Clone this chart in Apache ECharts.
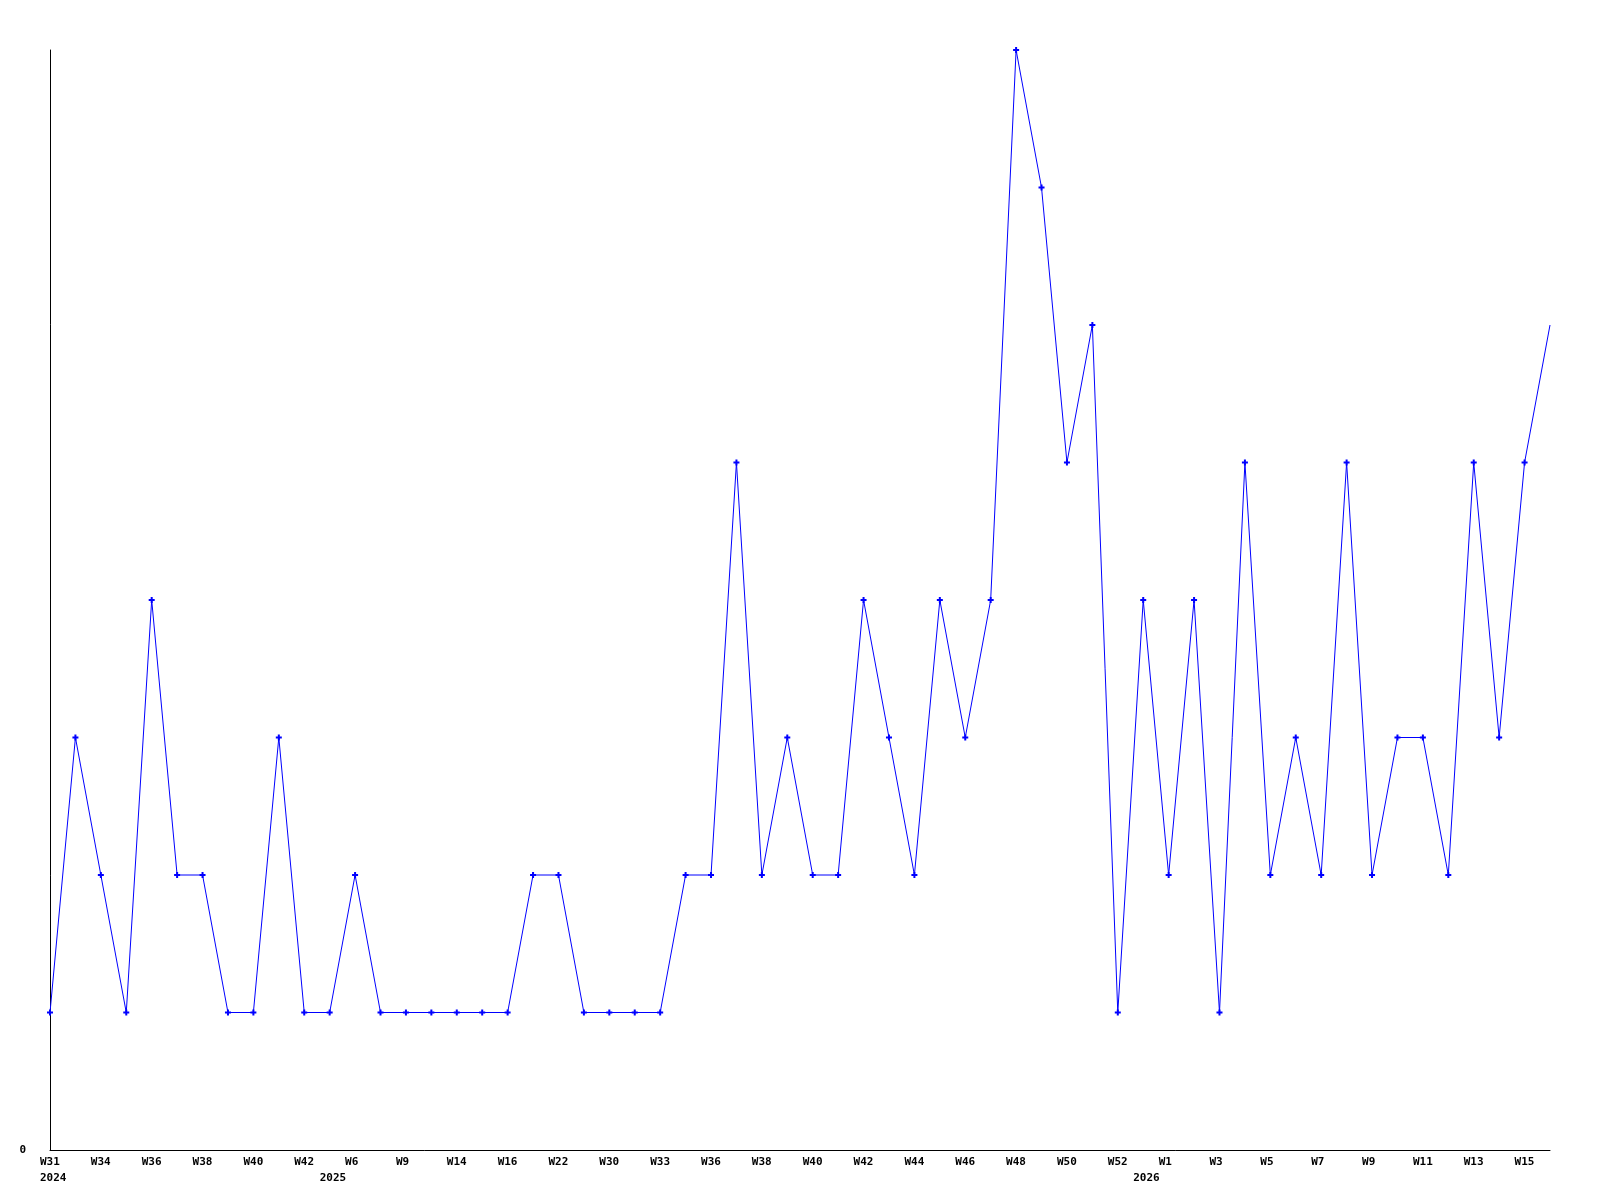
<!DOCTYPE html>
<html>
<head>
<meta charset="utf-8">
<script src="https://cdn.jsdelivr.net/npm/echarts@6/dist/echarts.min.js"></script>
<style>html,body{margin:0;padding:0;background:#fff}#c{width:1600px;height:1200px}</style>
</head>
<body>
<div id="c"></div>
<script>
const weeks = ['W31','W33','W34','W35','W36','W37','W38','W39','W40','W41',
  'W42','W3','W6','W8','W9','W12','W14','W15','W16','W20',
  'W22','W28','W30','W31','W33','W35','W36','W37','W38','W39',
  'W40','W41','W42','W43','W44','W45','W46','W47','W48','W49',
  'W50','W51','W52','W0','W1','W2','W3','W4','W5','W6',
  'W7','W8','W9','W10','W11','W12','W13','W14','W15','W16'];
const years = ['2024','2024','2024','2024','2024','2024','2024','2024','2024','2024',
  '2024','2025','2025','2025','2025','2025','2025','2025','2025','2025',
  '2025','2025','2025','2025','2025','2025','2025','2025','2025','2025',
  '2025','2025','2025','2025','2025','2025','2025','2025','2025','2025',
  '2025','2025','2025','2026','2026','2026','2026','2026','2026','2026',
  '2026','2026','2026','2026','2026','2026','2026','2026','2026','2026'];
const values = [1,3,2,1,4,2,2,1,1,3,
  1,1,2,1,1,1,1,1,1,2,
  2,1,1,1,1,2,2,5,2,3,
  2,2,4,3,2,4,3,4,8,7,
  5,6,1,4,2,4,1,5,2,3,
  2,5,2,3,3,2,5,3,5,6];
const yMax = 8;

const FONT = 'DejaVu Sans Mono';
const chart = echarts.init(document.getElementById('c'));
const plus = 'path://M2,0H4V2H6V4H4V6H2V4H0V2H2Z';
const seriesData = values.map((v, i) => i === values.length - 1 ? {value: v, symbol: 'none'} : v);
chart.setOption({
  animation: false,
  backgroundColor: '#fff',
  grid: {left: 50, right: 50, top: 50, bottom: 50, containLabel: false},
  xAxis: [{
    type: 'category', data: weeks, boundaryGap: false,
    axisLine: {show: true, lineStyle: {color: '#000', width: 1}},
    axisTick: {show: false},
    splitLine: {show: false},
    axisLabel: {interval: 1, margin: 7, align: 'left', padding: [0, 0, 0, -10],
      color: '#000', fontFamily: FONT, fontWeight: 'bold', fontSize: 11}
  }, {
    type: 'category', data: weeks, boundaryGap: false, position: 'bottom', offset: 16,
    axisLine: {show: false}, axisTick: {show: false}, splitLine: {show: false},
    axisLabel: {interval: 0, margin: 7, align: 'left', padding: [0, 0, 0, -10],
      color: '#000', fontFamily: FONT, fontWeight: 'bold', fontSize: 11,
      formatter: (v, i) => (i === 0 || years[i] !== years[i - 1]) ? years[i] : ''}
  }],
  yAxis: {
    type: 'value', min: 0, max: yMax, interval: yMax,
    axisLine: {show: true, lineStyle: {color: '#000', width: 1}},
    axisTick: {show: false},
    splitLine: {show: false},
    axisLabel: {margin: 24, color: '#000', fontFamily: FONT, fontWeight: 'bold', fontSize: 11,
      formatter: v => v === 0 ? '0' : ''}
  },
  series: [{
    type: 'line', data: seriesData, xAxisIndex: 0,
    symbol: plus, symbolSize: 6, showAllSymbol: true,
    lineStyle: {color: '#0000ff', width: 1},
    itemStyle: {color: '#0000ff'}
  }]
});
</script>
</body>
</html>
